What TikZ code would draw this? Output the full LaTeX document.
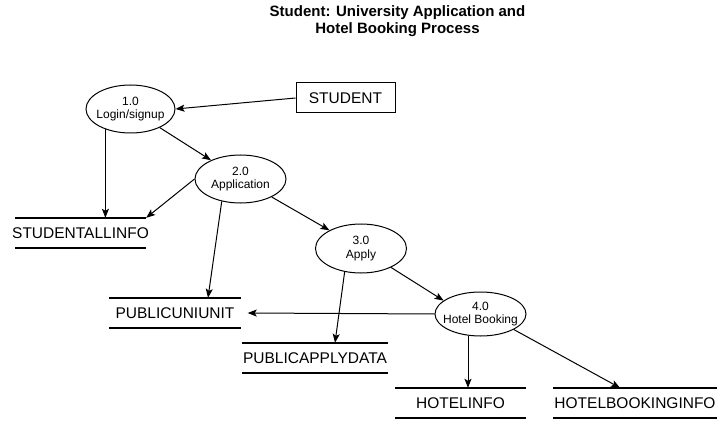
\documentclass[tikz,border=0pt]{standalone}
\usepackage{fontspec}
\setmainfont{Liberation Sans}
\usetikzlibrary{shapes.geometric,arrows.meta}

\tikzset{
  process/.style={ellipse, draw, line width=1pt, inner sep=0pt},
  proclabel/.style={align=center, font=\fontsize{12}{13.5}\selectfont},
  entity/.style={draw, line width=1pt, minimum width=99pt, minimum height=30pt, font=\fontsize{15.5}{18}\selectfont},
  store/.style={minimum width=131pt, minimum height=30pt, inner xsep=1pt, inner ysep=0pt, font=\fontsize{15.5}{18}\selectfont},
  storeline/.style={line width=2pt},
  flow/.style={line width=1pt, -{Stealth[length=9pt,width=7pt,inset=2pt]}}
}

\begin{document}
\begin{tikzpicture}[x=1pt,y=-1pt]

\useasboundingbox (0,0) rectangle (726,425);

% title
\node[font=\bfseries\fontsize{15}{17}\selectfont, align=center] (title) at (397.5,21) {Student: University Application and\\Hotel Booking Process};

% external entity
\node[entity] (student) at (345.5,98) {STUDENT};

% processes
\node[process, minimum width=89pt, minimum height=48pt, label={[proclabel]center:1.0\\Login/signup}] (e1) at (130.5,109) {};
\node[process, minimum width=91pt, minimum height=48pt, label={[proclabel]center:2.0\\Application}] (e2) at (240.5,179) {};
\node[process, minimum width=91pt, minimum height=49pt, label={[proclabel]center:3.0\\Apply}] (e3) at (361,248.5) {};
\node[process, minimum width=91pt, minimum height=44pt, label={[proclabel]center:4.0\\Hotel Booking}] (e4) at (480.5,314) {};

% data stores
\node[store] (sAll) at (80.5,233) {\makebox[129pt]{STUDENTALLINFO}};
\node[store] (sUni) at (175,313) {PUBLICUNIUNIT};
\node[store] (sApply) at (315,358) {PUBLICAPPLYDATA};
\node[store] (sHotel) at (460.5,403) {HOTELINFO};
\node[store] (sBook) at (635,403) {HOTELBOOKINGINFO};

\foreach \s in {sAll,sUni,sApply,sHotel,sBook}
  \draw[storeline] (\s.north west) -- (\s.north east) (\s.south west) -- (\s.south east);

% data flows
\draw[flow] (student.west) -- (e1.east);
\draw[flow] (e1) -- (e2);
\draw[flow] (e1.219) -- (e1.219 |- sAll.north);
\draw[flow] (e2.west) -- (sAll.north east);
\draw[flow] (e2.230) -- ([xshift=33pt]sUni.north);
\draw[flow] (e2) -- (e3);
\draw[flow] (e3.235) -- ([xshift=20pt]sApply.north);
\draw[flow] (e3) -- (e4.160);
\draw[flow] (e4.west) -- ([xshift=7pt]sUni.east);
\draw[flow] (e4.240) -- (e4.240 |- sHotel.north);
\draw[flow] (e4.-25) -- ([xshift=-15pt]sBook.north);

\end{tikzpicture}
\end{document}
